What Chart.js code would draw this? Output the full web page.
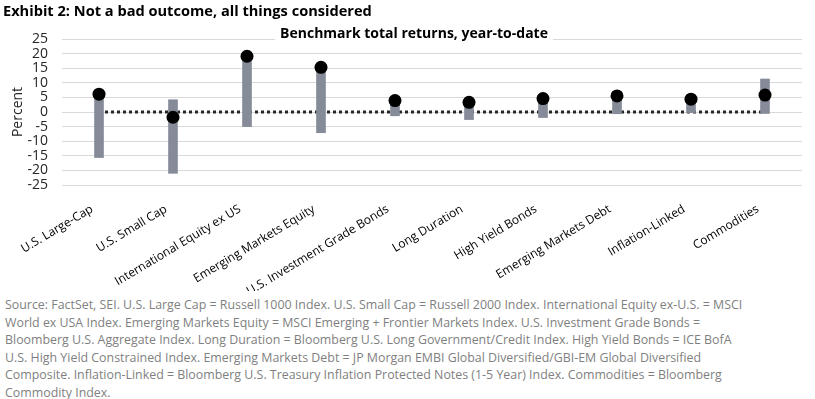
<!DOCTYPE html>
<html>
<head>
<meta charset="utf-8">
<script src="https://cdn.jsdelivr.net/npm/chart.js@4.4.0/dist/chart.umd.min.js"></script>
<style>
    body { margin: 0; background: #fff; width: 815px; height: 399px; overflow: hidden; position: relative; font-family: 'Open Sans', sans-serif; }
    #exhibit { position: absolute; left: 3px; top: 0px; font-size: 14.6px; font-weight: bold; color: #000; white-space: nowrap; }
    #chartBox { position: absolute; left: 0; top: 0; width: 815px; height: 291px; }
    #source { position: absolute; left: 5px; top: 296px; font-size: 12.4px; line-height: 17.6px; color: #7f7f7f; white-space: nowrap; }
</style>
</head>
<body>
<div id="chartBox"><canvas id="returnsChart" width="815" height="291"></canvas></div>
<div id="exhibit">Exhibit 2: Not a bad outcome, all things considered</div>
<div id="source">
Source: FactSet, SEI. U.S. Large Cap = Russell 1000 Index. U.S. Small Cap = Russell 2000 Index. International Equity ex-U.S. = MSCI<br>
World ex USA Index. Emerging Markets Equity = MSCI Emerging + Frontier Markets Index. U.S. Investment Grade Bonds =<br>
Bloomberg U.S. Aggregate Index. Long Duration = Bloomberg U.S. Long Government/Credit Index. High Yield Bonds = ICE BofA<br>
U.S. High Yield Constrained Index. Emerging Markets Debt = JP Morgan EMBI Global Diversified/GBI-EM Global Diversified<br>
Composite. Inflation-Linked = Bloomberg U.S. Treasury Inflation Protected Notes (1-5 Year) Index. Commodities = Bloomberg<br>
Commodity Index.
</div>
<script>
// Danh mục và số liệu
const categories = ['U.S. Large-Cap', 'U.S. Small Cap', 'International Equity ex US', 'Emerging Markets Equity',
    'U.S. Investment Grade Bonds', 'Long Duration', 'High Yield Bonds', 'Emerging Markets Debt',
    'Inflation-Linked', 'Commodities'];
const ytdReturn = [6.1, -1.8, 19.1, 15.3, 3.9, 3.3, 4.6, 5.5, 4.4, 5.8];
const rangeLow = [-15.6, -21.0, -5.0, -7.1, -1.3, -2.6, -1.9, -0.6, -0.2, -0.5];
const rangeHigh = [6.1, 4.2, 19.1, 15.3, 3.9, 3.3, 4.6, 5.5, 4.4, 11.3];
const zeroLine = [0, 0, 0, 0, 0, 0, 0, 0, 0, 0];
const yTicks = [-25, -20, -15, -10, -5, 0, 5, 10, 15, 20, 25];

const chartTitle = 'Benchmark total returns, year-to-date';

// Tiêu đề nằm đè lên đường lưới trên cùng, có nền trắng
const titlePlugin = {
    id: 'overlayTitle',
    beforeDatasetsDraw(chart) {
        const ctx = chart.ctx;
        ctx.save();
        ctx.font = 'bold 14px "Open Sans"';
        const w = ctx.measureText(chartTitle).width;
        const cx = 414;
        ctx.fillStyle = '#fff';
        ctx.fillRect(cx - w / 2 - 5, 25, w + 10, 17);
        ctx.fillStyle = '#000';
        ctx.textAlign = 'center';
        ctx.textBaseline = 'alphabetic';
        ctx.fillText(chartTitle, cx, 38);
        ctx.restore();
    }
};

function loadReturnsChart() {
    Chart.defaults.font.family = "'Open Sans', sans-serif";
    const ctx = document.getElementById('returnsChart').getContext('2d');
    new Chart(ctx, {
        data: {
            labels: categories,
            datasets: [
                {
                    type: 'line',
                    data: ytdReturn,
                    showLine: false,
                    pointRadius: 6.5,
                    pointBackgroundColor: '#000',
                    pointBorderWidth: 0,
                    order: 1
                },
                {
                    type: 'bar',
                    data: rangeLow.map((lo, i) => [lo, rangeHigh[i]]),
                    backgroundColor: '#868b99',
                    barThickness: 9,
                    order: 2
                },
                {
                    type: 'line',
                    data: zeroLine,
                    borderColor: '#262626',
                    borderWidth: 3,
                    borderDash: [3, 3],
                    pointRadius: 0,
                    order: 3
                }
            ]
        },
        options: {
            responsive: false,
            animation: false,
            layout: { padding: { top: 39, right: 13, left: 0, bottom: 0 } },
            scales: {
                x: {
                    offset: true,
                    grid: { display: false },
                    border: { display: false },
                    ticks: {
                        autoSkip: false,
                        minRotation: 31,
                        maxRotation: 31,
                        padding: 9,
                        labelOffset: -7,
                        color: '#000',
                        font: { size: 12 }
                    },
                    afterFit: (scale) => { scale.height = 106; }
                },
                y: {
                    min: -25,
                    max: 25,
                    afterBuildTicks: (scale) => { scale.ticks = yTicks.map(v => ({ value: v })); },
                    grid: { color: '#d9d9d9', lineWidth: 1, drawTicks: false },
                    border: { display: false },
                    ticks: { autoSkip: false, padding: 14, color: '#262626', font: { size: 14 } },
                    title: { display: true, text: 'Percent', color: '#262626', font: { size: 14 }, padding: { top: 10, bottom: 0 } },
                    afterFit: (scale) => { scale.width = 62; }
                }
            },
            plugins: {
                legend: { display: false },
                tooltip: { enabled: false }
            }
        },
        plugins: [titlePlugin]
    });
}

document.addEventListener('DOMContentLoaded', function () {
    loadReturnsChart();
});
</script>
</body>
</html>
